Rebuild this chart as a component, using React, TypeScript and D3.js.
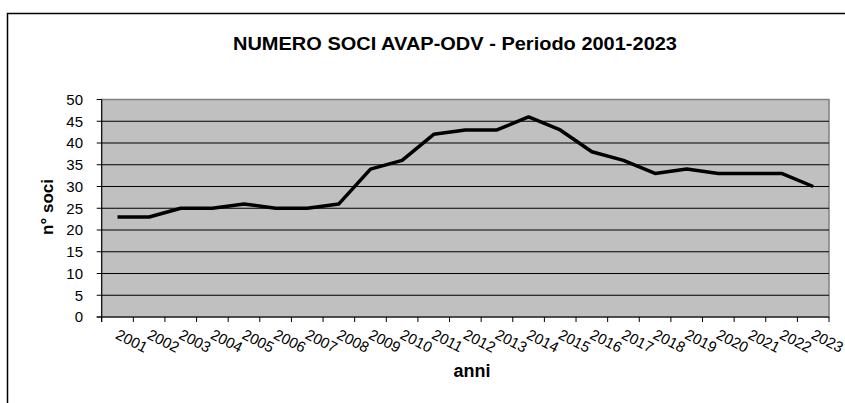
import React from "react";
import { scaleBand, scaleLinear, line } from "d3";

const years = ["2001", "2002", "2003", "2004", "2005", "2006", "2007", "2008", "2009", "2010", "2011", "2012",
    "2013", "2014", "2015", "2016", "2017", "2018", "2019", "2020", "2021", "2022", "2023"];
const soci = [23, 23, 25, 25, 26, 25, 25, 26, 34, 36, 42, 43, 43, 46, 43, 38, 36, 33, 34, 33, 33, 33, 30];
const yTicks = [0, 5, 10, 15, 20, 25, 30, 35, 40, 45, 50];

const title = "NUMERO SOCI AVAP-ODV - Periodo 2001-2023";
const yTitle = "n° soci";
const xTitle = "anni";

const WIDTH = 845;
const HEIGHT = 403;
const FONT = "'Liberation Sans', Arial, sans-serif";

function App() {
    const left = 101.7, right = 829, top = 99.5, bottom = 317;

    const xScale = scaleBand().domain(years).range([left, right]);
    const yScale = scaleLinear().domain([0, 50]).range([bottom, top]);
    const half = xScale.bandwidth() / 2;

    const path = line<number>()
        .x((d, i) => (xScale(years[i]) as number) + half)
        .y(d => yScale(d))(soci);

    // band boundaries for the tick marks
    const xTickPos = years.map(y => xScale(y) as number).concat([right]);

    return (
        <svg width={WIDTH} height={HEIGHT} style={{ position: "absolute", left: 0, top: 0, background: "#fff" }}
            fontFamily={FONT}>
            {/* chart border */}
            <rect x={7.5} y={13.5} width={900} height={500} fill="#fff" stroke="#000" strokeWidth={1.5} />

            <text x={455} y={50} textAnchor="middle" fontSize={19} fontWeight="bold"
                textLength={444} lengthAdjust="spacingAndGlyphs">{title}</text>

            {/* plot area */}
            <rect x={left} y={top} width={right - left} height={bottom - top} fill="#c0c0c0" stroke="#808080" strokeWidth={1.5} />

            {yTicks.map(t => (
                <g key={t}>
                    {t > 0 && t < 50 && (
                        <line x1={left} x2={right} y1={yScale(t)} y2={yScale(t)} stroke="#000" strokeWidth={1} />
                    )}
                    <line x1={left - 5} x2={left} y1={yScale(t)} y2={yScale(t)} stroke="#000" strokeWidth={1} />
                    <text x={83} y={yScale(t)} dy="0.35em" textAnchor="end" fontSize={15} fill="#000">{t}</text>
                </g>
            ))}

            {/* axes */}
            <line x1={left} x2={left} y1={top} y2={bottom + 5} stroke="#000" strokeWidth={1} />
            <line x1={left - 5} x2={right} y1={bottom} y2={bottom} stroke="#000" strokeWidth={1} />
            {xTickPos.map((x, i) => (
                <line key={i} x1={x} x2={x} y1={bottom} y2={bottom + 5} stroke="#000" strokeWidth={1} />
            ))}

            {years.map(y => {
                const cx = (xScale(y) as number) + half - 3;
                return (
                    <text key={y} transform={`translate(${cx},338) rotate(27)`} fontSize={15} fill="#000">{y}</text>
                );
            })}

            <path d={path as string} fill="none" stroke="#000" strokeWidth={3.5} strokeLinejoin="round" />

            <text transform="translate(53,207) rotate(-90)" textAnchor="middle" fontSize={17} fontWeight="bold">{yTitle}</text>
            <text x={472} y={377} textAnchor="middle" fontSize={18} fontWeight="bold">{xTitle}</text>
        </svg>
    );
}

export default App;
